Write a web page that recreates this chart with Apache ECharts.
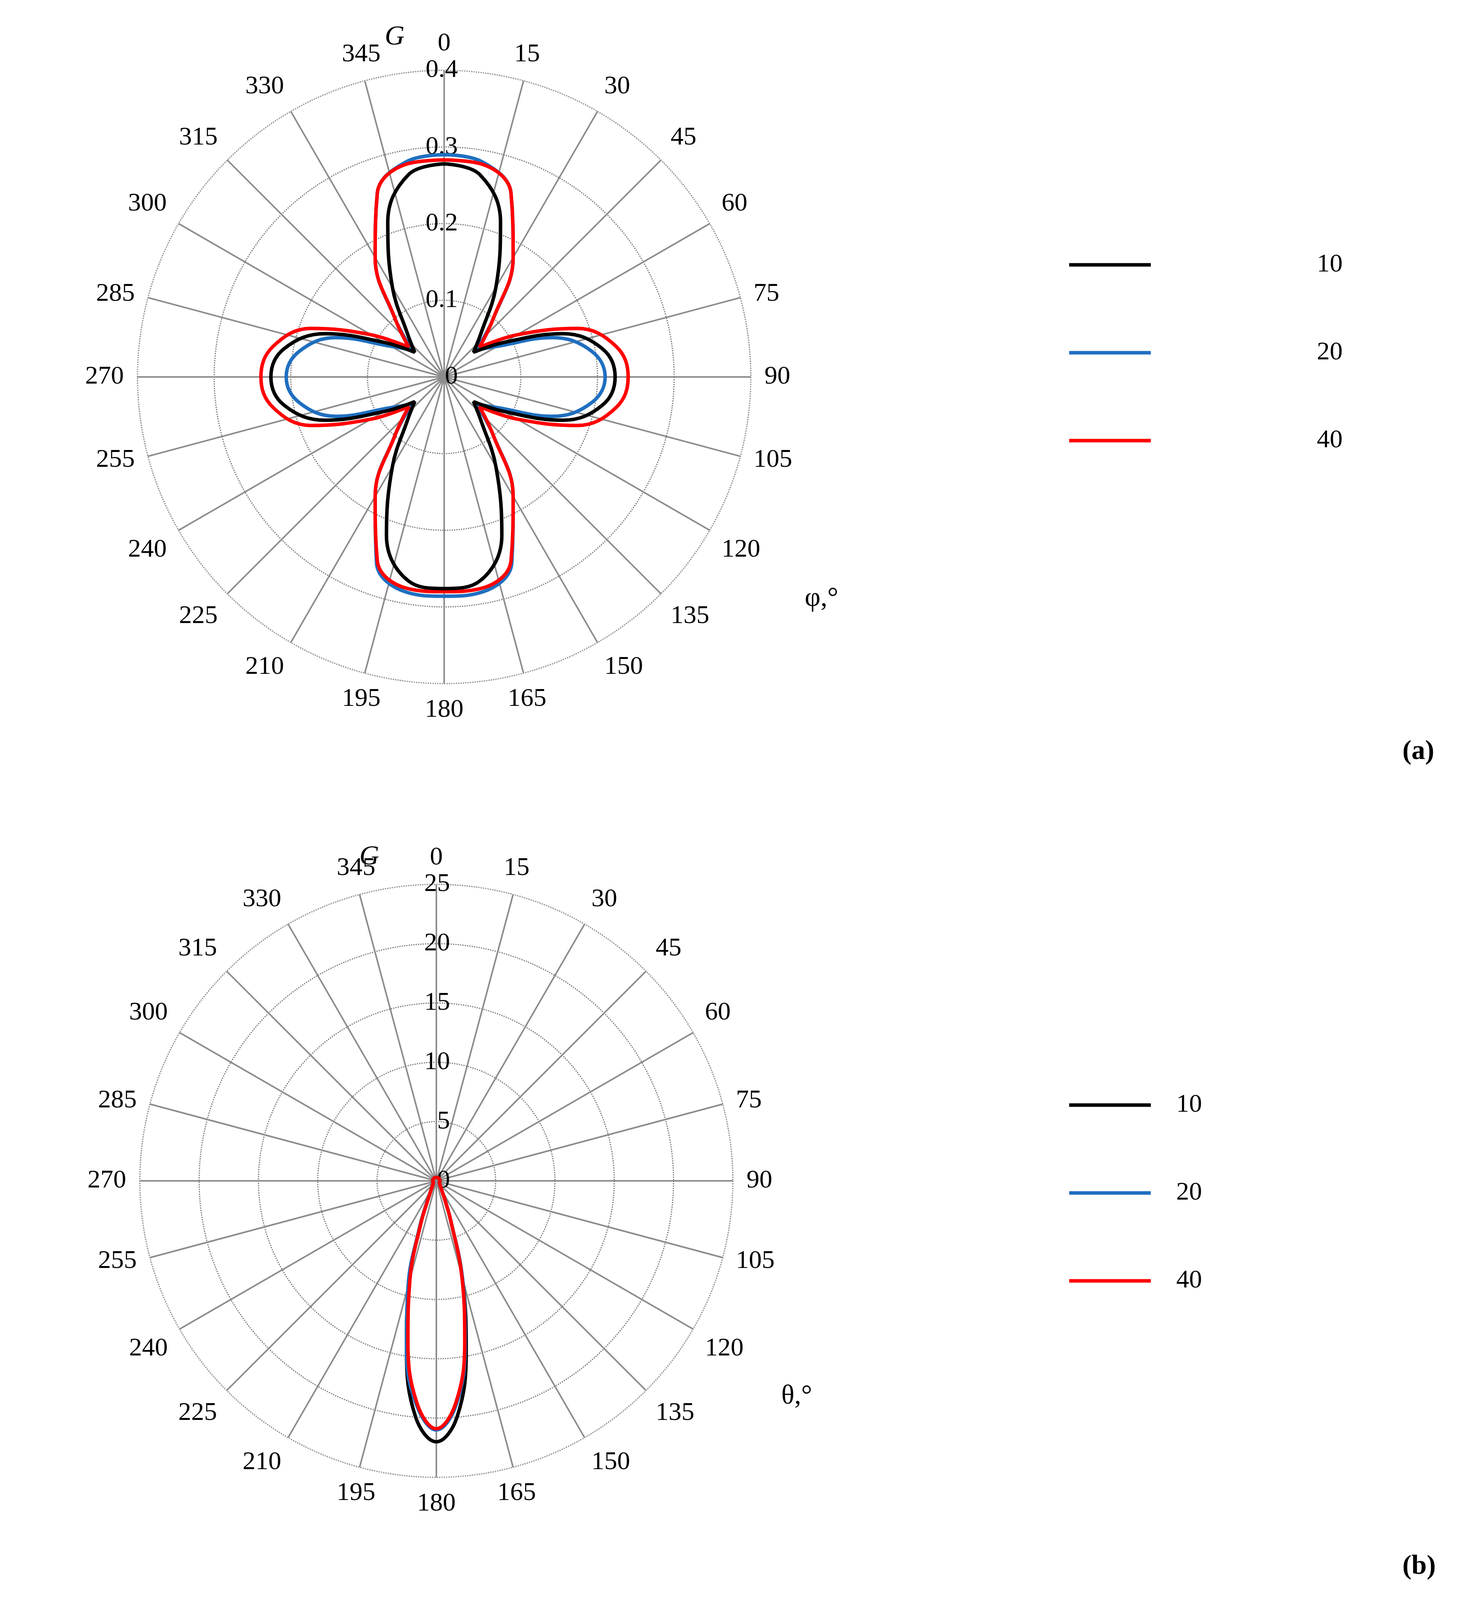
<!DOCTYPE html>
<html>
<head>
<meta charset="utf-8">
<script src="https://cdn.jsdelivr.net/npm/echarts@6/dist/echarts.min.js"></script>
<style>html,body{margin:0;background:#fff;overflow:hidden}#c{width:100vw;height:100vh}</style>
</head>
<body>
<div id="c"></div>
<script>
// angles, degrees
var anglesA = [0,10,20,30,40,50,60,70,80,90,100,110,120,130,140,150,160,170,180,190,200,210,220,230,240,250,260,270,280,290,300,310,320,330,340,350,360];
// G values (a), per series
var gA10 = [0.278,0.268,0.215,0.135,0.075,0.05,0.09,0.165,0.21,0.223,0.21,0.165,0.09,0.05,0.075,0.135,0.22,0.27,0.276,0.27,0.22,0.135,0.075,0.05,0.09,0.165,0.212,0.226,0.212,0.165,0.09,0.05,0.075,0.135,0.215,0.268,0.278];
var gA20 = [0.29,0.285,0.255,0.18,0.1,0.055,0.08,0.15,0.195,0.21,0.195,0.15,0.08,0.055,0.1,0.18,0.258,0.285,0.286,0.285,0.258,0.18,0.1,0.055,0.08,0.15,0.192,0.206,0.192,0.15,0.08,0.055,0.1,0.18,0.255,0.285,0.29];
var gA40 = [0.283,0.282,0.255,0.18,0.1,0.06,0.11,0.185,0.228,0.24,0.228,0.185,0.11,0.06,0.1,0.18,0.255,0.28,0.28,0.28,0.255,0.18,0.1,0.06,0.11,0.185,0.227,0.239,0.227,0.185,0.11,0.06,0.1,0.18,0.255,0.282,0.283];

var anglesB = [0,30,60,90,120,140,150,155,160,165,170,175,180,185,190,195,200,205,210,220,240,270,300,330,360];
var gB10 = [0.3,0.3,0.3,0.3,0.3,0.5,0.9,1.6,3.5,8.5,14.5,20,22,20,14.5,9,4,1.6,0.9,0.5,0.3,0.3,0.3,0.3,0.3];
var gB20 = [0.3,0.3,0.3,0.3,0.3,0.5,0.9,1.6,3.5,8.5,14,19,21,19,14.5,9.2,4,1.6,0.9,0.5,0.3,0.3,0.3,0.3,0.3];
var gB40 = [0.3,0.3,0.3,0.3,0.3,0.5,0.9,1.6,3.5,8.3,13.8,18.8,20.9,18.8,13.8,8.6,3.8,1.5,0.9,0.5,0.3,0.3,0.3,0.3,0.3];

var names = ['10','20','40'];
var colors = ['#000000','#1f6fc0','#ff0000'];
var FONT = 'Liberation Serif';

var chart = echarts.init(document.getElementById('c'));
// layout was measured on a 3781x4703 page; scale to whatever we got
var sx = chart.getWidth() / 3781, sy = chart.getHeight() / 4703, s = Math.min(sx, sy);
function X(v) { return Math.round(v * sx); }
function Y(v) { return Math.round(v * sy); }
function S(v) { return Math.round(v * s); }

function pairs(ang, vals) {
  var out = [];
  for (var i = 0; i < ang.length; i++) out.push([vals[i], ang[i]]);
  return out;
}

function angleAxis(idx) {
  return {
    polarIndex: idx, type: 'value', min: 0, max: 360, interval: 15,
    startAngle: 90, clockwise: true,
    axisLine: {lineStyle: {color: '#999', type: 'dotted', width: S(4)}},
    axisTick: {show: false},
    axisLabel: {fontFamily: FONT, fontSize: S(76), color: '#000', margin: S(40),
      formatter: function (v) { return v === 360 ? '' : String(v); }},
    splitLine: {show: true, lineStyle: {color: '#8c8c8c', width: S(5)}}
  };
}
function radiusAxis(idx, max, iv) {
  return {
    polarIndex: idx, type: 'value', min: 0, max: max, interval: iv,
    axisLine: {show: false}, axisTick: {show: false},
    axisLabel: {fontFamily: FONT, fontSize: S(76), color: '#000', margin: -S(40),
      formatter: function (v) { return String(v); }},
    splitLine: {show: true, lineStyle: {color: '#777', type: 'dotted', width: S(4)}}
  };
}

var series = [];
var setsA = [gA10, gA20, gA40], setsB = [gB10, gB20, gB40];
for (var i = 0; i < 3; i++) {
  series.push({name: names[i], type: 'line', coordinateSystem: 'polar', polarIndex: 0,
    data: pairs(anglesA, setsA[i]), smooth: 0.4, showSymbol: false,
    lineStyle: {color: colors[i], width: S(10)}, itemStyle: {color: colors[i]}, z: 3 + (i === 0 ? 1 : 0)});
  series.push({name: names[i], type: 'line', coordinateSystem: 'polar', polarIndex: 1,
    data: pairs(anglesB, setsB[i]), smooth: 0.4, showSymbol: false,
    lineStyle: {color: colors[i], width: S(10)}, itemStyle: {color: colors[i]}});
}

function legend(left, top, pad) {
  return {
    orient: 'vertical', left: X(left), top: Y(top), data: names, icon: 'rect',
    itemWidth: S(240), itemHeight: S(10), itemGap: Y(182),
    textStyle: {fontFamily: FONT, fontSize: S(76), color: '#000', padding: [0, 0, 0, X(pad)]},
    selectedMode: false
  };
}
function label(txt, left, top, style) {
  return {type: 'text', left: X(left), top: Y(top),
    style: {text: txt, font: style + ' ' + S(80) + 'px "Liberation Serif"', fill: '#000'}};
}

chart.setOption({
  backgroundColor: '#fff',
  animation: false,
  polar: [
    {center: [X(1137), Y(1108)], radius: S(901)},
    {center: [X(1117), Y(3471)], radius: S(871)}
  ],
  angleAxis: [angleAxis(0), angleAxis(1)],
  radiusAxis: [radiusAxis(0, 0.4, 0.1), radiusAxis(1, 25, 5)],
  legend: [legend(2732, 735, 420), legend(2732, 3205, 60)],
  graphic: [
    label('G', 985, 70, 'italic'),
    label('φ,°', 2060, 1720, 'normal'),
    label('G', 920, 2480, 'italic'),
    label('θ,°', 2000, 4065, 'normal'),
    label('(a)', 3590, 2170, 'bold'),
    label('(b)', 3590, 4565, 'bold')
  ],
  series: series
});
</script>
</body>
</html>
